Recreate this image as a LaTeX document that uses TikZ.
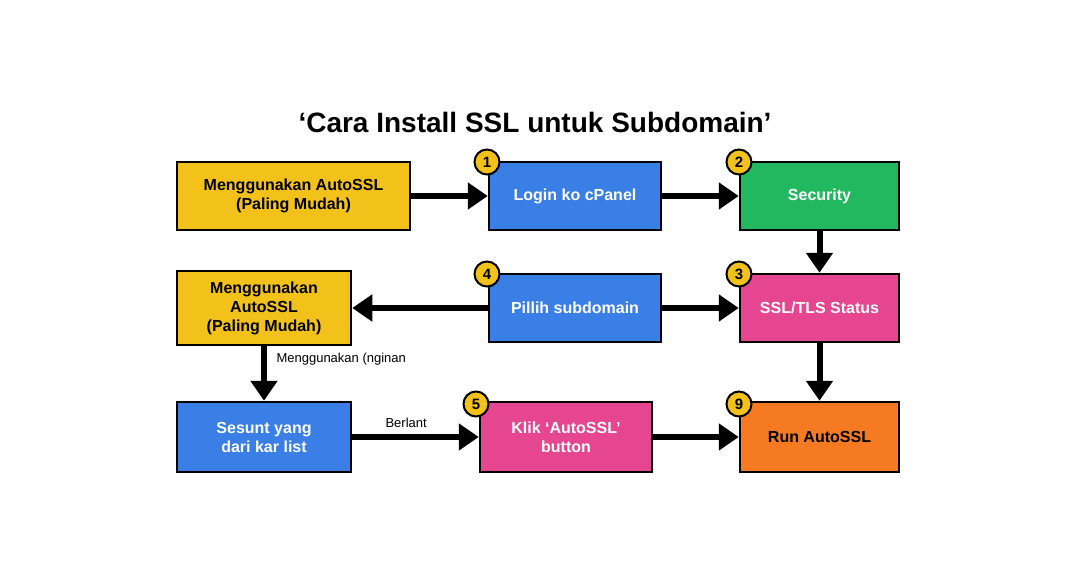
\documentclass[tikz,border=0pt]{standalone}
\usepackage{fontspec}
\setmainfont{Liberation Sans}
\usetikzlibrary{arrows.meta}
\definecolor{cy}{HTML}{F2C21B}
\definecolor{cb}{HTML}{3A7FE6}
\definecolor{cg}{HTML}{22B860}
\definecolor{cp}{HTML}{E6468F}
\definecolor{co}{HTML}{F57A22}
\begin{document}
\begin{tikzpicture}[x=1pt,y=-1pt,
 box/.style={draw=black,line width=2.5pt,inner sep=0pt,align=center,font=\bfseries\fontsize{16}{19}\selectfont},
 badge/.style={circle,draw=black,line width=2pt,fill=cy,inner sep=0pt,minimum size=25pt,font=\bfseries\fontsize{15}{15}\selectfont},
 arr/.style={line width=6pt,-{Triangle[length=20pt,width=26pt]}},
 lab/.style={font=\fontsize{13}{15}\selectfont,anchor=west}]
\useasboundingbox (0,0) rectangle (1076,586);
\node[font=\bfseries\fontsize{28}{30}\selectfont] (t) at (535,122) {‘Cara Install SSL untuk Subdomain’};
\node[box,fill=cy,minimum width=233pt,minimum height=68pt] (A) at (293.5,196) {Menggunakan AutoSSL\\(Paling Mudah)};
\node[box,fill=cb,text=white,minimum width=172pt,minimum height=68pt] (B) at (575,196) {Login ko cPanel};
\node[box,fill=cg,text=white,minimum width=159pt,minimum height=68pt] (C) at (819.5,196) {Security};
\node[box,fill=cy,minimum width=174pt,minimum height=74pt] (D) at (264,308) {Menggunakan\\AutoSSL\\(Paling Mudah)};
\node[box,fill=cb,text=white,minimum width=172pt,minimum height=68pt] (E) at (575,308) {Pillih subdomain};
\node[box,fill=cp,text=white,minimum width=159pt,minimum height=68pt] (F) at (819.5,308) {SSL/TLS Status};
\node[box,fill=cb,text=white,minimum width=174pt,minimum height=70pt] (G) at (264,437) {Sesunt yang\\dari kar list};
\node[box,fill=cp,text=white,minimum width=172pt,minimum height=70pt] (H) at (566,437) {Klik ‘AutoSSL’\\button};
\node[box,fill=co,minimum width=159pt,minimum height=70pt] (I) at (819.5,437) {Run AutoSSL};
\node[badge] (b1) at (487,162) {1};
\node[badge] (b2) at (739,162) {2};
\node[badge] (b4) at (487,274) {4};
\node[badge] (b3) at (739,274) {3};
\node[badge] (b5) at (476,404) {5};
\node[badge] (b9) at (739,404) {9};
\draw[arr] (A) -- (B);
\draw[arr] (B) -- (C);
\draw[arr] (C) -- (F);
\draw[arr] (E) -- (D);
\draw[arr] (E) -- (F);
\draw[arr] (F) -- (I);
\draw[arr] (D) -- (G);
\draw[arr] (G) -- (H);
\draw[arr] (H) -- (I);
\node[lab] (l1) at (273,359) {Menggunakan (nginan};
\node[lab] (l2) at (382,423) {Berlant};
\end{tikzpicture}
\end{document}
